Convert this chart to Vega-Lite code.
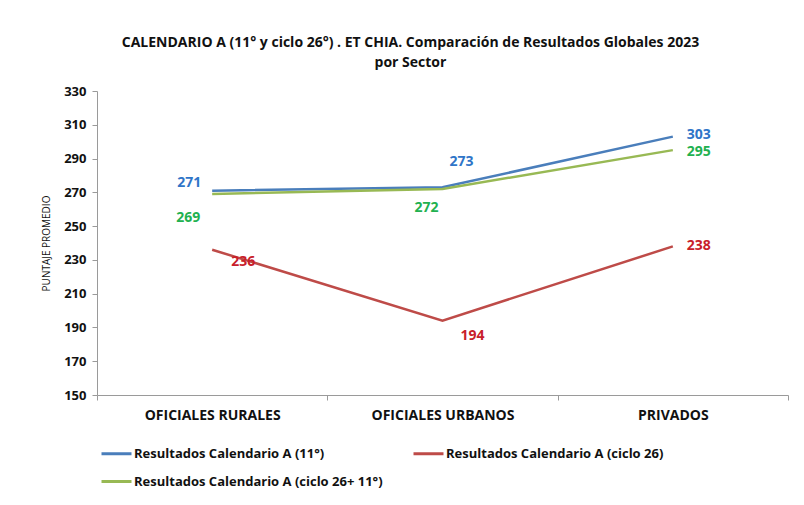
{
  "$schema": "https://vega.github.io/schema/vega-lite/v6.json",
  "width": 691,
  "height": 304,
  "autosize": "none",
  "padding": {"left": 97, "top": 91, "right": 16, "bottom": 110},
  "background": "white",
  "config": {
    "font": "'Open Sans', sans-serif",
    "view": {"stroke": null}
  },
  "title": {
    "text": ["CALENDARIO  A (11° y ciclo  26°) . ET CHIA.  Comparación de Resultados Globales 2023", "por Sector"],
    "fontSize": 14,
    "fontWeight": "bold",
    "color": "#111111",
    "anchor": "middle",
    "frame": "group",
    "dx": -32,
    "offset": 15,
    "lineHeight": 20
  },
  "data": {
    "values": [
      {"serie": "Resultados Calendario A (11°)", "sector": "OFICIALES RURALES", "valor": 271},
      {"serie": "Resultados Calendario A (11°)", "sector": "OFICIALES URBANOS", "valor": 273},
      {"serie": "Resultados Calendario A (11°)", "sector": "PRIVADOS", "valor": 303},
      {"serie": "Resultados Calendario A (ciclo 26)", "sector": "OFICIALES RURALES", "valor": 236},
      {"serie": "Resultados Calendario A (ciclo 26)", "sector": "OFICIALES URBANOS", "valor": 194},
      {"serie": "Resultados Calendario A (ciclo 26)", "sector": "PRIVADOS", "valor": 238},
      {"serie": "Resultados Calendario A (ciclo 26+ 11°)", "sector": "OFICIALES RURALES", "valor": 269},
      {"serie": "Resultados Calendario A (ciclo 26+ 11°)", "sector": "OFICIALES URBANOS", "valor": 272},
      {"serie": "Resultados Calendario A (ciclo 26+ 11°)", "sector": "PRIVADOS", "valor": 295}
    ]
  },
  "encoding": {
    "x": {
      "field": "sector",
      "type": "nominal",
      "sort": ["OFICIALES RURALES", "OFICIALES URBANOS", "PRIVADOS"],
      "bandPosition": 0.5,
      "scale": {"type": "band", "paddingInner": 0, "paddingOuter": 0},
      "axis": {
        "title": null,
        "labelAngle": 0,
        "labelFontSize": 14,
        "labelFontWeight": "bold",
        "labelColor": "#111111",
        "labelPadding": 8,
        "tickBand": "extent",
        "tickSize": 5,
        "tickColor": "#9a9a9a",
        "domainColor": "#9a9a9a",
        "grid": false
      }
    },
    "y": {
      "field": "valor",
      "type": "quantitative",
      "scale": {"domain": [150, 330], "nice": false, "zero": false},
      "axis": {
        "values": [150, 170, 190, 210, 230, 250, 270, 290, 310, 330],
        "title": "PUNTAJE PROMEDIO",
        "titleFontSize": 10,
        "titleFontWeight": "normal",
        "titleColor": "#111111",
        "titleX": -46,
        "titleY": 152,
        "labelFontSize": 13,
        "labelFontWeight": "bold",
        "labelColor": "#111111",
        "labelPadding": 6,
        "tickSize": 5,
        "tickColor": "#9a9a9a",
        "domainColor": "#9a9a9a",
        "grid": false
      }
    }
  },
  "layer": [
    {
      "mark": {"type": "line", "strokeWidth": 2.5},
      "encoding": {
        "color": {
          "field": "serie",
          "type": "nominal",
          "scale": {
            "domain": ["Resultados Calendario A (11°)", "Resultados Calendario A (ciclo 26)", "Resultados Calendario A (ciclo 26+ 11°)"],
            "range": ["#4A7EBB", "#BE4B48", "#98B954"]
          },
          "legend": {
            "title": null,
            "orient": "none",
            "legendX": 3,
            "legendY": 346,
            "direction": "horizontal",
            "columns": 2,
            "columnPadding": 24,
            "rowPadding": 4,
            "symbolType": "stroke",
            "symbolSize": 900,
            "symbolStrokeWidth": 3,
            "labelFontSize": 13,
            "labelFontWeight": "bold",
            "labelColor": "#111111",
            "labelLimit": 0,
            "labelOffset": 1
          }
        }
      }
    },
    {
      "transform": [{"filter": "datum.serie == 'Resultados Calendario A (11°)' && datum.sector == 'OFICIALES RURALES'"}],
      "mark": {"type": "text", "fontSize": 14, "fontWeight": "bold", "color": "#2F75C8", "dx": -23, "dy": -8},
      "encoding": {"text": {"field": "valor", "type": "quantitative"}}
    },
    {
      "transform": [{"filter": "datum.serie == 'Resultados Calendario A (ciclo 26+ 11°)' && datum.sector == 'OFICIALES RURALES'"}],
      "mark": {"type": "text", "fontSize": 14, "fontWeight": "bold", "color": "#22B150", "dx": -24, "dy": 24},
      "encoding": {"text": {"field": "valor", "type": "quantitative"}}
    },
    {
      "transform": [{"filter": "datum.serie == 'Resultados Calendario A (ciclo 26)' && datum.sector == 'OFICIALES RURALES'"}],
      "mark": {"type": "text", "fontSize": 14, "fontWeight": "bold", "color": "#C8202A", "dx": 31, "dy": 12},
      "encoding": {"text": {"field": "valor", "type": "quantitative"}}
    },
    {
      "transform": [{"filter": "datum.serie == 'Resultados Calendario A (11°)' && datum.sector == 'OFICIALES URBANOS'"}],
      "mark": {"type": "text", "fontSize": 14, "fontWeight": "bold", "color": "#2F75C8", "dx": 19, "dy": -25},
      "encoding": {"text": {"field": "valor", "type": "quantitative"}}
    },
    {
      "transform": [{"filter": "datum.serie == 'Resultados Calendario A (ciclo 26+ 11°)' && datum.sector == 'OFICIALES URBANOS'"}],
      "mark": {"type": "text", "fontSize": 14, "fontWeight": "bold", "color": "#22B150", "dx": -16, "dy": 19},
      "encoding": {"text": {"field": "valor", "type": "quantitative"}}
    },
    {
      "transform": [{"filter": "datum.serie == 'Resultados Calendario A (ciclo 26)' && datum.sector == 'OFICIALES URBANOS'"}],
      "mark": {"type": "text", "fontSize": 14, "fontWeight": "bold", "color": "#C8202A", "dx": 30, "dy": 15},
      "encoding": {"text": {"field": "valor", "type": "quantitative"}}
    },
    {
      "transform": [{"filter": "datum.serie == 'Resultados Calendario A (11°)' && datum.sector == 'PRIVADOS'"}],
      "mark": {"type": "text", "fontSize": 14, "fontWeight": "bold", "color": "#2F75C8", "dx": 26, "dy": -2},
      "encoding": {"text": {"field": "valor", "type": "quantitative"}}
    },
    {
      "transform": [{"filter": "datum.serie == 'Resultados Calendario A (ciclo 26+ 11°)' && datum.sector == 'PRIVADOS'"}],
      "mark": {"type": "text", "fontSize": 14, "fontWeight": "bold", "color": "#22B150", "dx": 26, "dy": 2},
      "encoding": {"text": {"field": "valor", "type": "quantitative"}}
    },
    {
      "transform": [{"filter": "datum.serie == 'Resultados Calendario A (ciclo 26)' && datum.sector == 'PRIVADOS'"}],
      "mark": {"type": "text", "fontSize": 14, "fontWeight": "bold", "color": "#C8202A", "dx": 26, "dy": 0},
      "encoding": {"text": {"field": "valor", "type": "quantitative"}}
    }
  ]
}
